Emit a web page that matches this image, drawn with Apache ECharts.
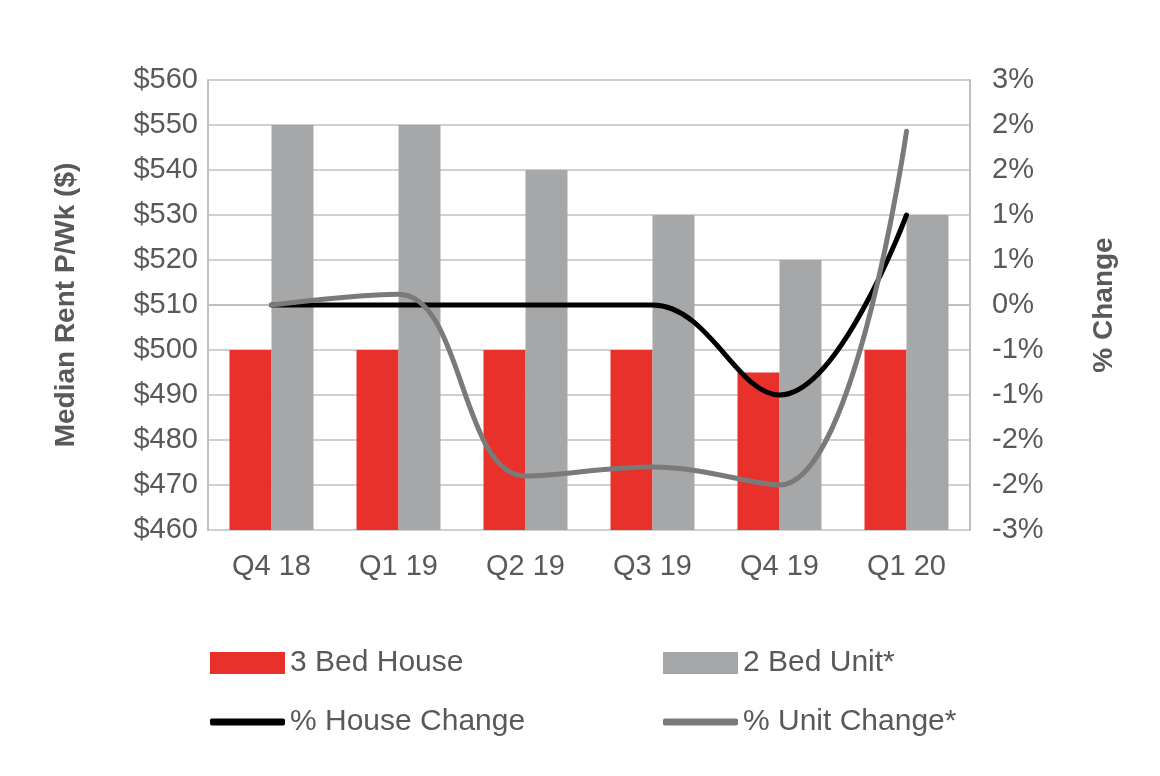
<!DOCTYPE html>
<html><head><meta charset="utf-8">
<script src="https://cdn.jsdelivr.net/npm/echarts@6/dist/echarts.min.js"></script>
<style>html,body{margin:0;background:#fff}#c{width:1160px;height:776px}</style>
</head><body><div id="c"></div>
<script>
const categories = ['Q4 18','Q1 19','Q2 19','Q3 19','Q4 19','Q1 20'];
const house3Bed = [500,500,500,500,495,500];
const unit2Bed = [550,550,540,530,520,530];
const houseChange = [0,0,0,0,-1.0,1.0];
const unitChange = [0,0.12,-1.9,-1.8,-2.0,1.93];
const rightTickLabels = ['-3%','-2%','-2%','-1%','-1%','0%','1%','1%','2%','2%','3%'];
const ax = {color:'#595959', fontSize:29, fontFamily:'Liberation Sans'};
const chart = echarts.init(document.getElementById('c'));
const leg = (name, left, top, icon, w, h) => ({
  data:[name], left, top, itemWidth:w, itemHeight:h, icon,
  textStyle:{color:'#595959', fontSize:30, fontFamily:'Liberation Sans'}, itemGap:0
});
chart.setOption({
  animation:false,
  grid:{left:208, right:190, top:80, bottom:246},
  legend:[
    leg('3 Bed House',205,643,'rect',75,22),
    leg('2 Bed Unit*',658,643,'rect',75,22),
    leg('% House Change',205,702,'roundRect',75,7),
    leg('% Unit Change*',658,702,'roundRect',75,7)
  ],
  xAxis:{type:'category', data:categories,
    axisLine:{lineStyle:{color:'#bfbfbf',width:2}}, axisTick:{show:false},
    axisLabel:Object.assign({margin:22},ax)},
  yAxis:[
    {type:'value', min:460, max:560, interval:10, name:'Median Rent P/Wk ($)',
     nameLocation:'middle', nameGap:128, nameTextStyle:{color:'#595959',fontSize:28,fontWeight:'bold',fontFamily:'Liberation Sans'},
     axisLine:{show:true,lineStyle:{color:'#bfbfbf',width:2}},
     splitLine:{lineStyle:{color:'#d0d0d0',width:2}},
     axisLabel:Object.assign({formatter:v=>'$'+v, margin:10},ax)},
    {type:'value', min:-2.5, max:2.5, interval:0.5, name:'% Change',
     nameLocation:'middle', nameGap:120, nameRotate:90, nameTextStyle:{color:'#595959',fontSize:28,fontWeight:'bold',fontFamily:'Liberation Sans'},
     axisLine:{show:true,lineStyle:{color:'#bfbfbf',width:2}}, splitLine:{show:false},
     axisLabel:Object.assign({margin:22, formatter:v=>rightTickLabels[Math.round((v+2.5)/0.5)]},ax)}
  ],
  series:[
    {name:'3 Bed House', type:'bar', data:house3Bed, barWidth:42, barGap:'0%', itemStyle:{color:'#e8312a'}},
    {name:'2 Bed Unit*', type:'bar', data:unit2Bed, barWidth:42, itemStyle:{color:'#a6a7a9'}},
    {name:'% House Change', type:'line', yAxisIndex:1, data:houseChange, smooth:0.4, symbol:'none',
     lineStyle:{color:'#000',width:5,cap:'round'}, itemStyle:{color:'#000'}},
    {name:'% Unit Change*', type:'line', yAxisIndex:1, data:unitChange, smooth:0.4, symbol:'none',
     lineStyle:{color:'#7a7a7a',width:5,cap:'round'}, itemStyle:{color:'#7a7a7a'}}
  ]
});
</script></body></html>
